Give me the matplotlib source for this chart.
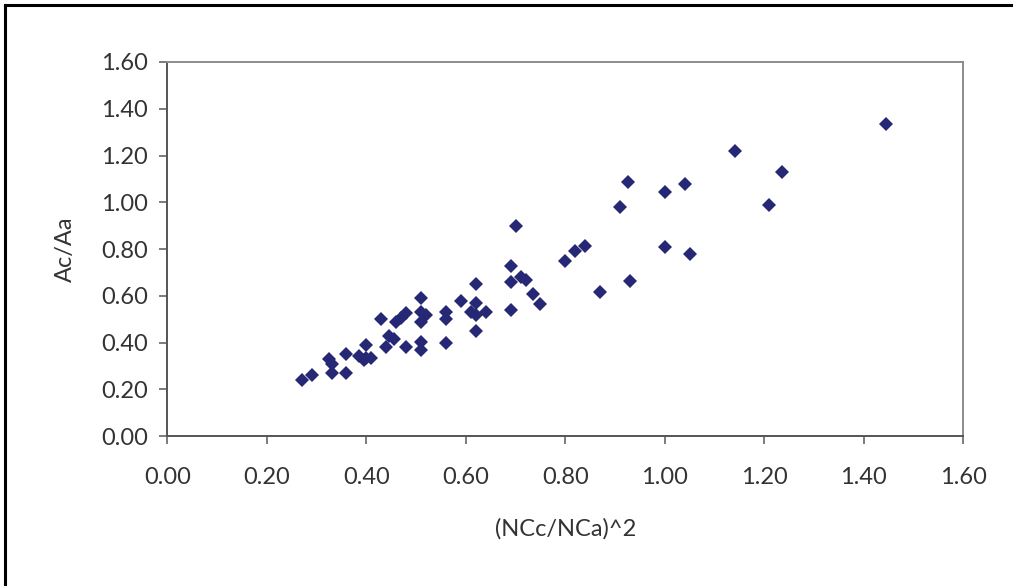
import matplotlib
matplotlib.use("Agg")
import matplotlib.pyplot as plt
from matplotlib.lines import Line2D

# values
nc_ratio_sq = [0.27, 0.29, 0.325, 0.33, 0.33, 0.36, 0.36, 0.385, 0.395, 0.40, 0.41,
               0.40, 0.43, 0.44, 0.445, 0.455, 0.46, 0.47, 0.48, 0.48,
               0.51, 0.51, 0.51, 0.51, 0.52, 0.51, 0.56, 0.56, 0.56,
               0.59, 0.62, 0.62, 0.61, 0.62, 0.64, 0.62,
               0.69, 0.71, 0.72, 0.69, 0.735, 0.75, 0.69, 0.70,
               0.80, 0.82, 0.84, 0.87, 0.925, 0.91, 1.00, 1.04, 1.00, 1.05, 0.93,
               1.14, 1.235, 1.21, 1.445]
area_ratio = [0.24, 0.26, 0.33, 0.31, 0.27, 0.35, 0.27, 0.345, 0.325, 0.335, 0.335,
              0.39, 0.50, 0.38, 0.43, 0.415, 0.49, 0.505, 0.525, 0.38,
              0.405, 0.37, 0.59, 0.53, 0.52, 0.49, 0.53, 0.50, 0.40,
              0.58, 0.65, 0.57, 0.53, 0.52, 0.53, 0.45,
              0.73, 0.68, 0.67, 0.66, 0.61, 0.565, 0.54, 0.90,
              0.75, 0.79, 0.815, 0.615, 1.085, 0.98, 1.045, 1.08, 0.81, 0.78, 0.665,
              1.22, 1.13, 0.99, 1.335]

ticks = [0.0, 0.2, 0.4, 0.6, 0.8, 1.0, 1.2, 1.4, 1.6]

plt.rcParams['font.family'] = ['Lato', 'DejaVu Sans']

fig = plt.figure(figsize=(10.13, 5.86), dpi=100)
ax = fig.add_axes([0.1652, 0.2555, 0.7858, 0.6387])

ax.plot(nc_ratio_sq, area_ratio, linestyle='none', marker='D', markersize=7.4,
        color='#272875', markeredgewidth=0)

ax.set_xlim(0, 1.6)
ax.set_ylim(0, 1.6)
ax.set_xticks(ticks)
ax.set_yticks(ticks)
ax.set_xticklabels([f"{t:.2f}" for t in ticks])
ax.set_yticklabels([f"{t:.2f}" for t in ticks])

ax.tick_params(axis='x', direction='out', length=6, width=1.2, color='#666666',
               pad=16, labelsize=17, labelcolor='#333333')
ax.tick_params(axis='y', direction='out', length=6, width=1.2, color='#666666',
               pad=8, labelsize=17, labelcolor='#333333')

for side in ['left', 'bottom']:
    ax.spines[side].set_color('#555555')
    ax.spines[side].set_linewidth(1.4)
for side in ['top', 'right']:
    ax.spines[side].set_color('#8c8c8c')
    ax.spines[side].set_linewidth(1.4)

ax.set_xlabel('(NCc/NCa)^2', fontsize=17, color='#333333', labelpad=22)
ax.set_ylabel('Ac/Aa', fontsize=17, color='#333333', labelpad=18)

# outer chart frame (top and left edges visible)
fig.add_artist(Line2D([0.005, 1.0], [0.991, 0.991], color='black', lw=2.2,
                      transform=fig.transFigure))
fig.add_artist(Line2D([0.005, 0.005], [0.0, 0.991], color='black', lw=2.2,
                      transform=fig.transFigure))

fig.savefig('out.png', dpi=100)
